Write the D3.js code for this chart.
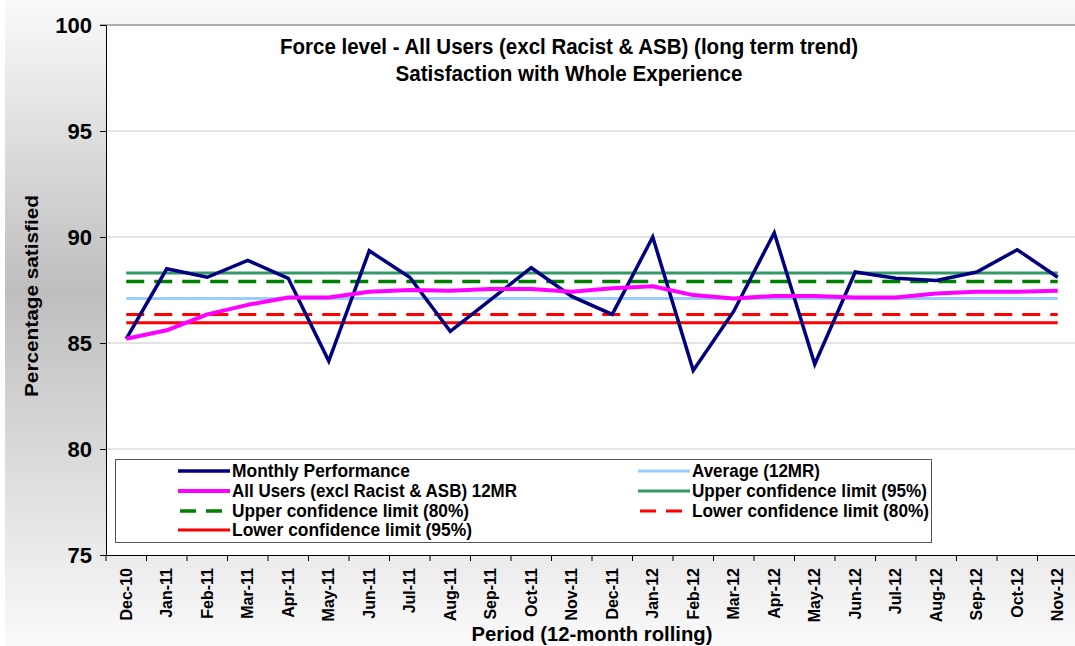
<!DOCTYPE html>
<html>
<head>
<meta charset="utf-8">
<script src="https://cdn.jsdelivr.net/npm/d3@7"></script>
<style>
  html, body { margin: 0; padding: 0; background: #fff; }
  svg { display: block; }
  text { font-family: "Liberation Sans", Arial, sans-serif; font-weight: bold; fill: #000; }
</style>
</head>
<body>
<div id="chart"></div>
<script>
const categories = ['Dec-10', 'Jan-11', 'Feb-11', 'Mar-11', 'Apr-11', 'May-11', 'Jun-11', 'Jul-11',
  'Aug-11', 'Sep-11', 'Oct-11', 'Nov-11', 'Dec-11', 'Jan-12', 'Feb-12', 'Mar-12', 'Apr-12', 'May-12',
  'Jun-12', 'Jul-12', 'Aug-12', 'Sep-12', 'Oct-12', 'Nov-12'];

const monthlyPerformance = [85.2, 88.5, 88.1, 88.9, 88.05, 84.15, 89.35, 88.1, 85.55, 87.05, 88.55, 87.2,
  86.35, 90.0, 83.7, 86.5, 90.2, 84.0, 88.35, 88.05, 87.95, 88.35, 89.4, 88.1];

const rolling12MR = [85.2, 85.6, 86.35, 86.8, 87.15, 87.15, 87.42, 87.5, 87.47, 87.55, 87.55, 87.42,
  87.58, 87.68, 87.26, 87.1, 87.22, 87.22, 87.15, 87.15, 87.33, 87.42, 87.42, 87.47];

// constant reference lines
const limitKeys = ['avg', 'ucl95', 'ucl80', 'lcl80', 'lcl95'];
const limitValues = [87.1, 88.3, 87.9, 86.35, 85.95];

const legendLabels = ['Monthly Performance', 'Average (12MR)', 'All Users (excl Racist & ASB) 12MR',
  'Upper confidence limit (95%)', 'Upper confidence limit (80%)', 'Lower confidence limit (80%)',
  'Lower confidence limit (95%)'];

const yTicks = [75, 80, 85, 90, 95, 100];

const width = 1075;
const height = 646;
const plot = { left: 106, right: 1078, top: 25, bottom: 555 };

const styles = {
  monthly: { color: '#000080', w: 3.5, dash: null },
  avg: { color: '#99ccff', w: 3, dash: null },
  rolling: { color: '#ff00ff', w: 4, dash: null },
  ucl95: { color: '#339966', w: 3, dash: null },
  ucl80: { color: '#008000', w: 3.5, dash: '18,10' },
  lcl80: { color: '#ff0000', w: 3, dash: '18,10' },
  lcl95: { color: '#ff0000', w: 3, dash: null }
};

const svg = d3.select('#chart').append('svg')
  .attr('width', width)
  .attr('height', height);

// chart area background gradient
const grad = svg.append('defs').append('linearGradient')
  .attr('id', 'bg').attr('x1', 0).attr('y1', 0).attr('x2', 0).attr('y2', 1);
grad.append('stop').attr('offset', '0%').attr('stop-color', '#fafafa');
grad.append('stop').attr('offset', '45%').attr('stop-color', '#bebebe');
grad.append('stop').attr('offset', '100%').attr('stop-color', '#fafafa');

svg.append('rect').attr('x', 5).attr('y', 0).attr('width', width - 5).attr('height', height)
  .attr('fill', 'url(#bg)');

const x = d3.scaleBand()
  .domain(categories)
  .range([plot.left, plot.right]);

const y = d3.scaleLinear()
  .domain([75, 100])
  .range([plot.bottom, plot.top]);

const cx = d => x(d) + x.bandwidth() / 2;

// plot area
svg.append('rect')
  .attr('x', plot.left).attr('y', plot.top)
  .attr('width', plot.right - plot.left).attr('height', plot.bottom - plot.top)
  .attr('fill', '#fff');

svg.append('g')
  .selectAll('line')
  .data(yTicks.filter(v => v > 75 && v < 100))
  .enter().append('line')
    .attr('x1', plot.left).attr('x2', plot.right)
    .attr('y1', d => y(d)).attr('y2', d => y(d))
    .attr('stroke', '#c8c8c8').attr('stroke-width', 1);

svg.append('line')
  .attr('x1', plot.left - 6).attr('x2', plot.right)
  .attr('y1', plot.top).attr('y2', plot.top)
  .attr('stroke', '#969696').attr('stroke-width', 1.5);

// limit lines
const first = categories[0];
const last = categories[categories.length - 1];
svg.append('g')
  .selectAll('line')
  .data(limitKeys.map((k, i) => ({ key: k, value: limitValues[i] })))
  .enter().append('line')
    .attr('x1', cx(first)).attr('x2', cx(last))
    .attr('y1', d => y(d.value)).attr('y2', d => y(d.value))
    .attr('stroke', d => styles[d.key].color)
    .attr('stroke-width', d => styles[d.key].w)
    .attr('stroke-dasharray', d => styles[d.key].dash);

const line = d3.line()
  .x((d, i) => cx(categories[i]))
  .y(d => y(d));

svg.append('path')
  .datum(monthlyPerformance)
  .attr('fill', 'none')
  .attr('stroke', styles.monthly.color)
  .attr('stroke-width', styles.monthly.w)
  .attr('stroke-linejoin', 'miter')
  .attr('d', line);

svg.append('path')
  .datum(rolling12MR)
  .attr('fill', 'none')
  .attr('stroke', styles.rolling.color)
  .attr('stroke-width', styles.rolling.w)
  .attr('stroke-linejoin', 'round')
  .attr('d', line);

// axes
const yAxis = svg.append('g')
  .attr('transform', `translate(${plot.left},0)`)
  .call(d3.axisLeft(y).tickValues(yTicks).tickSize(6).tickPadding(8).tickFormat(d3.format('d')));
yAxis.select('.domain').attr('stroke', '#000');
yAxis.selectAll('.tick line').attr('stroke', '#000');
yAxis.selectAll('text').style('font-size', '22px').style('font-weight', 'bold')
  .style('font-family', '"Liberation Sans", Arial, sans-serif');

const xAxis = svg.append('g')
  .attr('transform', `translate(0,${plot.bottom})`)
  .call(d3.axisBottom(x).tickSize(0).tickSizeOuter(0));
xAxis.select('.domain').attr('stroke', '#000');
xAxis.selectAll('.tick text')
  .attr('transform', 'rotate(-90)')
  .attr('x', -13).attr('y', 0).attr('dy', '0.35em')
  .style('text-anchor', 'end')
  .style('font-size', '16px').style('font-weight', 'bold')
  .style('font-family', '"Liberation Sans", Arial, sans-serif');

// band boundary tick marks
xAxis.append('g')
  .selectAll('line')
  .data(categories)
  .enter().append('line')
    .attr('x1', d => x(d)).attr('x2', d => x(d))
    .attr('y1', 0).attr('y2', 6)
    .attr('stroke', '#000');

// titles
const narrow = '"Liberation Sans Narrow", "Liberation Sans", Arial, sans-serif';
svg.append('text').attr('x', 569).attr('y', 54)
  .attr('text-anchor', 'middle').style('font-size', '22px').style('font-family', narrow)
  .attr('textLength', 578).attr('lengthAdjust', 'spacingAndGlyphs')
  .text('Force level - All Users (excl Racist & ASB) (long term trend)');
svg.append('text').attr('x', 569).attr('y', 81)
  .attr('text-anchor', 'middle').style('font-size', '22px').style('font-family', narrow)
  .attr('textLength', 347).attr('lengthAdjust', 'spacingAndGlyphs')
  .text('Satisfaction with Whole Experience');

svg.append('text')
  .attr('transform', 'translate(38,296) rotate(-90)')
  .attr('text-anchor', 'middle').style('font-size', '19px')
  .attr('textLength', 202).attr('lengthAdjust', 'spacingAndGlyphs')
  .text('Percentage satisfied');

svg.append('text').attr('x', 592).attr('y', 641)
  .attr('text-anchor', 'middle').style('font-size', '21px').style('font-family', narrow)
  .attr('textLength', 241).attr('lengthAdjust', 'spacingAndGlyphs')
  .text('Period (12-month rolling)');

// legend
const legend = svg.append('g');
legend.append('rect')
  .attr('x', 115.5).attr('y', 459.5).attr('width', 816).attr('height', 83)
  .attr('fill', '#fff').attr('stroke', '#555').attr('stroke-width', 1);

const legendKeys = ['monthly', 'avg', 'rolling', 'ucl95', 'ucl80', 'lcl80', 'lcl95'];
const legendWidths = [178, 128, 285, 235, 237, 237, 240];
const colX = [178, 638];
const rowY = [471, 491, 511, 530];

const items = legend.selectAll('g.item')
  .data(legendKeys.map((k, i) => ({ key: k, label: legendLabels[i], w: legendWidths[i], col: i % 2, row: Math.floor(i / 2) })))
  .enter().append('g')
    .attr('class', 'item')
    .attr('transform', d => `translate(${colX[d.col]},${rowY[d.row]})`);

items.append('line')
  .attr('x1', d => styles[d.key].dash ? 2 : 0).attr('x2', 52)
  .attr('y1', 0).attr('y2', 0)
  .attr('stroke', d => styles[d.key].color)
  .attr('stroke-width', d => styles[d.key].w)
  .attr('stroke-dasharray', d => styles[d.key].dash ? '16,10' : null);

items.append('text')
  .attr('x', 54).attr('y', 0).attr('dy', '0.36em')
  .style('font-size', '18px').style('font-family', narrow)
  .attr('textLength', d => d.w).attr('lengthAdjust', 'spacingAndGlyphs')
  .text(d => d.label);
</script>
</body>
</html>
